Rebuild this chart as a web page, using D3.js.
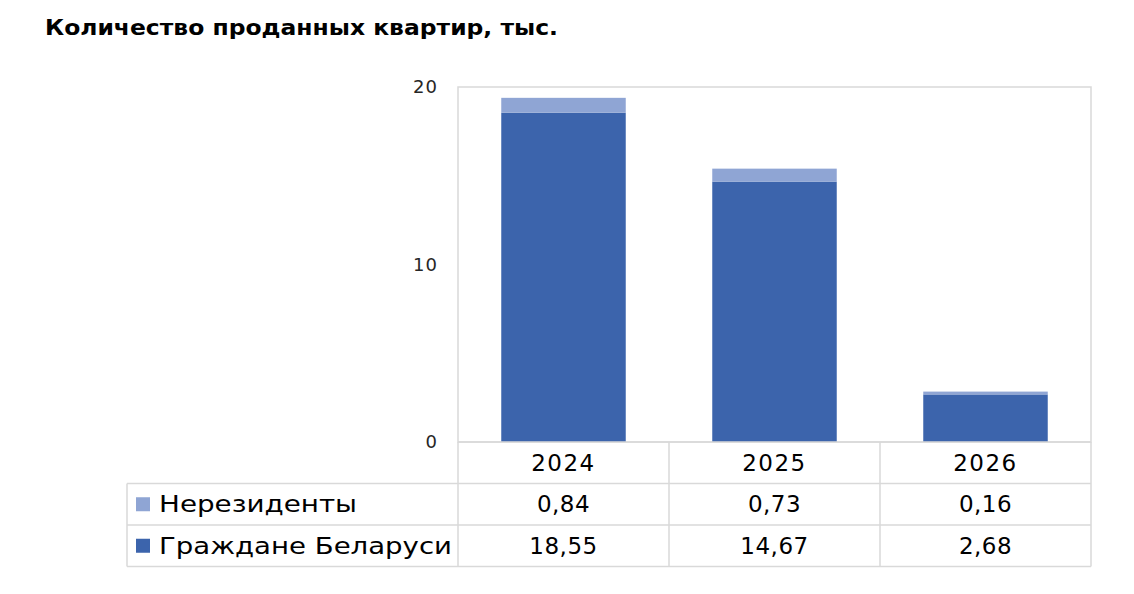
<!DOCTYPE html>
<html>
<head>
<meta charset="utf-8">
<script src="https://cdn.jsdelivr.net/npm/d3@7"></script>
<style>
  body { margin: 0; background: #fff; }
  svg text { font-family: "DejaVu Sans", "Noto Sans", sans-serif; }
</style>
</head>
<body>
<div id="chart"></div>
<script>
// data
var years = ["2024", "2025", "2026"];
var seriesNames = ["Нерезиденты", "Граждане Беларуси"];
var nonResidents = [0.84, 0.73, 0.16];
var citizens = [18.55, 14.67, 2.68];
var yTicks = [0, 10, 20];

var colors = { "Граждане Беларуси": "#3c64ac", "Нерезиденты": "#8fa5d4" };
var fmt = function (v) { return v.toFixed(2).replace(".", ","); };

var W = 1134, H = 594;
var plot = { left: 458, right: 1091, top: 87, bottom: 442 };
var rowH = 41.5;
var tableLeft = 127;

var svg = d3.select("#chart").append("svg")
    .attr("width", W).attr("height", H);

// title
svg.append("text")
    .attr("x", 45).attr("y", 35)
    .attr("font-size", 21).attr("font-weight", 700)
    .attr("fill", "#000")
    .attr("textLength", 513).attr("lengthAdjust", "spacingAndGlyphs")
    .text("Количество проданных квартир, тыс.");

// scales
var x = d3.scaleBand().domain(years)
    .range([plot.left, plot.right])
    .paddingInner(0.41).paddingOuter(0.205);
var band = d3.scaleBand().domain(years).range([plot.left, plot.right]);
var y = d3.scaleLinear().domain([0, 20]).range([plot.bottom, plot.top]);

// plot border
svg.append("rect")
    .attr("x", plot.left).attr("y", plot.top)
    .attr("width", plot.right - plot.left).attr("height", plot.bottom - plot.top)
    .attr("fill", "none").attr("stroke", "#d9d9d9").attr("stroke-width", 1.5);

// y axis
var yAxis = svg.append("g")
    .attr("transform", "translate(" + (plot.left - 20) + ",0)")
    .call(d3.axisLeft(y).tickValues(yTicks).tickSize(0).tickPadding(0));
yAxis.select(".domain").remove();
yAxis.selectAll("text").attr("font-size", 18).attr("fill", "#262626")
    .attr("letter-spacing", 1);

// stacked bars
var rows = years.map(function (yr, i) {
    return { year: yr, "Граждане Беларуси": citizens[i], "Нерезиденты": nonResidents[i] };
});
var stack = d3.stack().keys(["Граждане Беларуси", "Нерезиденты"])(rows);

svg.append("g").selectAll("g")
    .data(stack).enter().append("g")
    .attr("fill", function (d) { return colors[d.key]; })
    .selectAll("rect")
    .data(function (d) { return d; }).enter().append("rect")
    .attr("x", function (d) { return x(d.data.year); })
    .attr("width", x.bandwidth())
    .attr("y", function (d) { return y(d[1]); })
    .attr("height", function (d) { return y(d[0]) - y(d[1]); });

// data table
var lineColor = "#d9d9d9";
var t = svg.append("g").attr("stroke", lineColor).attr("stroke-width", 1.5);
var tableTop = plot.bottom, tableBottom = plot.bottom + rowH * 3;
// horizontal lines
t.append("line").attr("x1", plot.left).attr("x2", plot.right)
    .attr("y1", tableTop).attr("y2", tableTop);
[1, 2, 3].forEach(function (r) {
    t.append("line").attr("x1", tableLeft).attr("x2", plot.right)
        .attr("y1", tableTop + rowH * r).attr("y2", tableTop + rowH * r);
});
// vertical lines
t.append("line").attr("x1", tableLeft).attr("x2", tableLeft)
    .attr("y1", tableTop + rowH).attr("y2", tableBottom);
years.forEach(function (yr) {
    t.append("line").attr("x1", band(yr)).attr("x2", band(yr))
        .attr("y1", tableTop).attr("y2", tableBottom);
});
t.append("line").attr("x1", plot.right).attr("x2", plot.right)
    .attr("y1", tableTop).attr("y2", tableBottom);

var cellText = function (g, tx, ty, s, anchor) {
    return g.append("text").attr("x", tx).attr("y", ty)
        .attr("text-anchor", anchor || "middle")
        .attr("dominant-baseline", "central")
        .attr("font-size", 23).attr("fill", "#000")
        .attr("letter-spacing", 1.5)
        .text(s);
};

// year header
years.forEach(function (yr) {
    cellText(svg, band(yr) + band.bandwidth() / 2, tableTop + rowH / 2, yr);
});

// series rows
var seriesVals = [nonResidents, citizens];
var labelWidths = [198, 293];
seriesNames.forEach(function (name, r) {
    var cy = tableTop + rowH * (r + 1) + rowH / 2;
    svg.append("rect")
        .attr("x", 136).attr("y", cy - 7)
        .attr("width", 14).attr("height", 14)
        .attr("fill", colors[name]);
    cellText(svg, 159, cy, name, "start")
        .attr("letter-spacing", null)
        .attr("textLength", labelWidths[r]).attr("lengthAdjust", "spacingAndGlyphs");
    years.forEach(function (yr, i) {
        cellText(svg, band(yr) + band.bandwidth() / 2, cy, fmt(seriesVals[r][i]))
            .attr("letter-spacing", 0.5);
    });
});
</script>
</body>
</html>
